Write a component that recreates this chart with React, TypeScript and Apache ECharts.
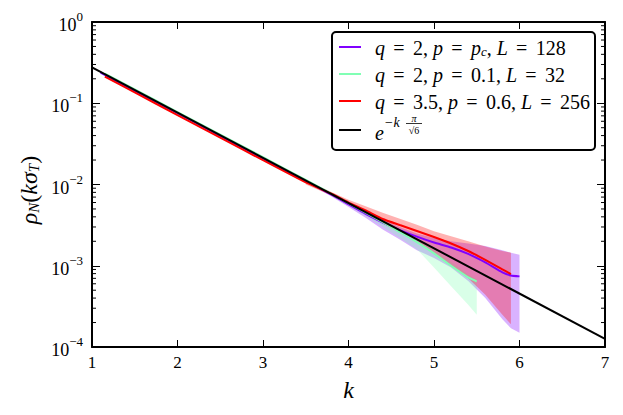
import React, { useEffect, useRef } from 'react';
import * as echarts from 'echarts';

// ---- data ----
const kPurple = [1.1, 1.5, 2, 2.5, 3, 3.5, 3.8, 4.0, 4.2, 4.4, 4.6, 4.8, 5.0, 5.2, 5.4, 5.6, 5.8, 5.9, 6.0];
const vPurple = [0.238, 0.143, 0.0755, 0.0398, 0.021, 0.011, 0.0075, 0.0057, 0.00435, 0.0034, 0.00275, 0.00228, 0.00193, 0.00168, 0.0014, 0.0011, 0.00083, 0.00076, 0.00074];

const kGreen = [1.15, 1.5, 2, 2.5, 3, 3.5, 3.8, 4.0, 4.2, 4.4, 4.6, 4.8, 5.0, 5.2, 5.4, 5.5];
const vGreen = [0.232, 0.148, 0.078, 0.0412, 0.0217, 0.0114, 0.0077, 0.0059, 0.0045, 0.00345, 0.0026, 0.00195, 0.00142, 0.001, 0.00072, 0.00064];

const kRed = [1.15, 1.5, 2, 2.5, 3, 3.5, 3.8, 4.0, 4.2, 4.4, 4.6, 4.8, 5.0, 5.2, 5.4, 5.6, 5.8, 5.9];
const vRed = [0.212, 0.136, 0.0715, 0.0378, 0.0199, 0.0106, 0.0077, 0.006, 0.0048, 0.00376, 0.00317, 0.00268, 0.00226, 0.00188, 0.00152, 0.00118, 0.0009, 0.00079];

const kBlack = [1, 7];
const vBlack = [0.277, 0.000126];

// error bands
const kPurpleBand = [3.5, 3.8, 4.0, 4.2, 4.4, 4.6, 4.8, 5.0, 5.2, 5.4, 5.6, 5.8, 5.9, 6.0];
const upPurpleBand = [0.0113, 0.0078, 0.006, 0.0047, 0.0037, 0.003, 0.0025, 0.0022, 0.002, 0.00188, 0.00175, 0.00155, 0.00145, 0.00137];
const loPurpleBand = [0.0107, 0.0071, 0.0053, 0.0039, 0.0028, 0.0021, 0.00155, 0.00125, 0.00095, 0.00065, 0.0004, 0.00022, 0.00017, 0.00015];

const kGreenBand = [3.5, 3.8, 4.0, 4.2, 4.4, 4.6, 4.8, 5.0, 5.2, 5.4, 5.5];
const upGreenBand = [0.0117, 0.008, 0.0062, 0.0048, 0.0037, 0.0028, 0.0021, 0.0016, 0.00112, 0.00078, 0.00068];
const loGreenBand = [0.0111, 0.0073, 0.0055, 0.0041, 0.003, 0.0022, 0.0016, 0.00095, 0.00056, 0.00033, 0.00025];

const kRedBand = [3.5, 3.8, 4.0, 4.2, 4.4, 4.6, 4.8, 5.0, 5.2, 5.4, 5.6, 5.8, 5.9];
const upRedBand = [0.0112, 0.0081, 0.0065, 0.0054, 0.0045, 0.0038, 0.0032, 0.00265, 0.0023, 0.002, 0.00172, 0.00152, 0.00145];
const loRedBand = [0.01, 0.0073, 0.0056, 0.0044, 0.0033, 0.00255, 0.00195, 0.00145, 0.001, 0.0007, 0.00044, 0.00025, 0.00019];

const xTicks = [1, 2, 3, 4, 5, 6, 7];
const yDecades = [0.0001, 0.001, 0.01, 0.1];
const minorMultipliers = [2, 3, 4, 5, 6, 7, 8, 9];

const PURPLE = '#8000ff';
const GREEN = '#80ffb4';
const RED = '#ff0000';
const FONT = 'Liberation Serif';

const pairs = (ks: number[], vs: number[]) => ks.map((k, i) => [k, vs[i]]);

const bandSeries = (ks: number[], up: number[], lo: number[], color: string, z: number) => ({
  type: 'custom',
  silent: true,
  z,
  data: [[ks[0], up[0]]],
  renderItem: (_p: any, api: any) => {
    const top = ks.map((k, i) => api.coord([k, up[i]]));
    const bot = ks.map((k, i) => api.coord([k, lo[i]])).reverse();
    return { type: 'polygon', shape: { points: top.concat(bot) }, style: { fill: color } };
  },
});

const lineSeries = (ks: number[], vs: number[], color: string, z: number, smooth: number) => ({
  type: 'line',
  data: pairs(ks, vs),
  showSymbol: false,
  symbol: 'none',
  silent: true,
  smooth,
  z,
  lineStyle: { color, width: 2 },
});

const minorData: number[][] = [];
yDecades.forEach((d) => minorMultipliers.forEach((m) => minorData.push([1, d * m])));

const EQ = ' \u2006=\u2006 ';
const legendRows = [
  `{i|q}{n|${EQ}2, }{i|p}{n|${EQ}}{i|p}{sub|c}{n|, }{i|L}{n|${EQ}128}`,
  `{i|q}{n|${EQ}2, }{i|p}{n|${EQ}0.1, }{i|L}{n|${EQ}32}`,
  `{i|q}{n|${EQ}3.5, }{i|p}{n|${EQ}0.6, }{i|L}{n|${EQ}256}`,
];
const legendColors = [PURPLE, GREEN, RED, '#000'];

const legendRich = {
  i: { fontFamily: FONT, fontStyle: 'italic', fontSize: 20, lineHeight: 18, verticalAlign: 'bottom', fill: '#000' },
  n: { fontFamily: FONT, fontSize: 20, lineHeight: 18, verticalAlign: 'bottom', fill: '#000' },
  sub: { fontFamily: FONT, fontStyle: 'italic', fontSize: 13, lineHeight: 12, verticalAlign: 'bottom', fill: '#000' },
};

export default function App() {
  const ref = useRef<HTMLDivElement>(null);
  useEffect(() => {
    const chart = echarts.init(ref.current!, null, { renderer: 'svg' });
    const legendGraphics: any[] = [
      {
        type: 'rect',
        shape: { x: 332, y: 32, width: 263, height: 118, r: 4 },
        style: { fill: '#fff', stroke: '#000', lineWidth: 2 },
        z: 100,
      },
    ];
    const rowY = [47, 74, 101, 130];
    legendColors.forEach((c, i) => {
      legendGraphics.push({
        type: 'line',
        shape: { x1: 339, y1: rowY[i], x2: 361, y2: rowY[i] },
        style: { stroke: c, lineWidth: 2 },
        z: 101,
      });
    });
    legendRows.forEach((t, i) => {
      legendGraphics.push({
        type: 'text',
        x: 375,
        y: rowY[i] + 2,
        z: 101,
        style: { text: t, rich: legendRich, verticalAlign: 'middle', align: 'left', fill: '#000' },
      });
    });
    // e^{-k pi/sqrt6}
    legendGraphics.push(
      { type: 'text', x: 375, y: 133, z: 101, style: { text: 'e', fontFamily: FONT, fontStyle: 'italic', fontSize: 20, fill: '#000', verticalAlign: 'middle' } },
      { type: 'text', x: 384, y: 122, z: 101, style: { text: '−k', fontFamily: FONT, fontStyle: 'italic', fontSize: 14, fill: '#000', verticalAlign: 'middle' } },
      { type: 'text', x: 414, y: 118, z: 101, style: { text: 'π', fontFamily: FONT, fontStyle: 'italic', fontSize: 10, fill: '#000', align: 'center', verticalAlign: 'middle' } },
      { type: 'line', z: 101, shape: { x1: 406, y1: 123.5, x2: 422, y2: 123.5 }, style: { stroke: '#000', lineWidth: 0.8 } },
      { type: 'text', x: 414, y: 130, z: 101, style: { text: '√6', fontFamily: FONT, fontSize: 10, fill: '#000', align: 'center', verticalAlign: 'middle' } },
    );
    // y axis title
    legendGraphics.push({
      type: 'text',
      x: 27,
      y: 190,
      rotation: Math.PI / 2,
      z: 101,
      style: {
        text: '{i|ρ}{sub|N}{n|(}{i|kσ}{sub|T}{n|)}',
        align: 'center',
        verticalAlign: 'middle',
        rich: {
          i: { fontFamily: FONT, fontStyle: 'italic', fontSize: 24, lineHeight: 28, verticalAlign: 'bottom', fill: '#000' },
          n: { fontFamily: FONT, fontSize: 24, lineHeight: 28, verticalAlign: 'bottom', fill: '#000' },
          sub: { fontFamily: FONT, fontStyle: 'italic', fontSize: 15, lineHeight: 17, verticalAlign: 'bottom', fill: '#000' },
        },
      },
    });

    const axisLine = { show: true, lineStyle: { color: '#000', width: 2 } };
    const option: any = {
      animation: false,
      backgroundColor: '#fff',
      textStyle: { fontFamily: FONT },
      grid: { left: 92, right: 18, top: 22, bottom: 68, containLabel: false },
      xAxis: [
        {
          type: 'value', min: 1, max: 7, interval: 1, position: 'bottom',
          axisLine, splitLine: { show: false },
          axisTick: { show: true, inside: true, length: 7, lineStyle: { color: '#000', width: 1 } },
          axisLabel: { color: '#000', fontFamily: FONT, fontSize: 17, margin: 7, formatter: (v: number) => (xTicks.includes(v) ? String(v) : '') },
          name: 'k', nameLocation: 'middle', nameGap: 31,
          nameTextStyle: { fontFamily: FONT, fontStyle: 'italic', fontSize: 24, color: '#000' },
        },
        {
          type: 'value', min: 1, max: 7, interval: 1, position: 'top',
          axisLine, splitLine: { show: false },
          axisTick: { show: true, inside: true, length: 7, lineStyle: { color: '#000', width: 1 } },
          axisLabel: { show: false },
        },
      ],
      yAxis: [
        {
          type: 'log', logBase: 10, min: 0.0001, max: 1, position: 'left',
          axisLine, splitLine: { show: false },
          axisTick: { show: true, inside: true, length: 8, lineStyle: { color: '#000', width: 1 } },
          axisLabel: {
            margin: 9,
            formatter: (v: number) => {
              const e = Math.round(Math.log10(v));
              return '{b|10}{s|' + (e < 0 ? '−' + -e : String(e)) + '}';
            },
            rich: {
              b: { fontFamily: FONT, fontSize: 18, lineHeight: 24, verticalAlign: 'bottom', color: '#000' },
              s: { fontFamily: FONT, fontSize: 13, lineHeight: 14, verticalAlign: 'top', color: '#000' },
            },
          },
        },
        {
          type: 'log', logBase: 10, min: 0.0001, max: 1, position: 'right',
          axisLine, splitLine: { show: false },
          axisTick: { show: true, inside: true, length: 8, lineStyle: { color: '#000', width: 1 } },
          axisLabel: { show: false },
        },
      ],
      series: [
        {
          type: 'custom', silent: true, z: 5, data: minorData,
          renderItem: (_p: any, api: any) => {
            const v = api.value(1);
            const pl = api.coord([1, v]);
            const pr = api.coord([7, v]);
            return {
              type: 'group',
              children: [
                { type: 'line', shape: { x1: pl[0], y1: pl[1], x2: pl[0] + 4, y2: pl[1] }, style: { stroke: '#000', lineWidth: 1 } },
                { type: 'line', shape: { x1: pr[0] - 4, y1: pr[1], x2: pr[0], y2: pr[1] }, style: { stroke: '#000', lineWidth: 1 } },
              ],
            };
          },
        },
        bandSeries(kPurpleBand, upPurpleBand, loPurpleBand, 'rgba(128,0,255,0.3)', 2),
        bandSeries(kGreenBand, upGreenBand, loGreenBand, 'rgba(128,255,180,0.3)', 2),
        bandSeries(kRedBand, upRedBand, loRedBand, 'rgba(255,0,0,0.3)', 2),
        lineSeries(kPurple, vPurple, PURPLE, 3, 0.15),
        lineSeries(kGreen, vGreen, GREEN, 3, 0.15),
        lineSeries(kRed, vRed, RED, 3, 0.15),
        lineSeries(kBlack, vBlack, '#000', 4, 0),
      ],
      graphic: legendGraphics,
    };
    chart.setOption(option);
    return () => chart.dispose();
  }, []);
  return <div ref={ref} style={{ position: 'absolute', left: 0, top: 0, width: 623, height: 415, background: '#fff' }} />;
}
